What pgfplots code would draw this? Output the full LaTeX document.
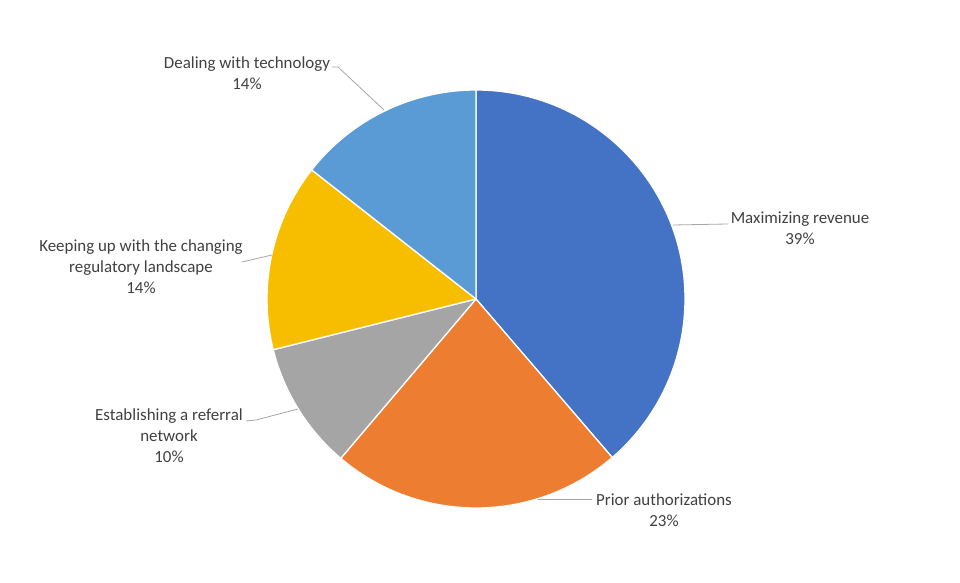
\documentclass[border=0pt]{standalone}
\usepackage{pgfplots}
\pgfplotsset{compat=1.18}
\usepackage{pgfplotstable}
\usepackage{fontspec}
\setmainfont{Carlito}
\definecolor{cA}{HTML}{4472C4}
\definecolor{cB}{HTML}{ED7D31}
\definecolor{cC}{HTML}{A5A5A5}
\definecolor{cD}{HTML}{F7BE00}
\definecolor{cE}{HTML}{5B9BD5}
\definecolor{txt}{HTML}{404040}
\definecolor{lead}{HTML}{A6A6A6}
\pgfplotstableread{
idx pct
0 38.7
1 22.5
2 9.9
3 14.5
4 14.4
}\piedata
\begin{document}
\begin{tikzpicture}
\begin{axis}[
  x=1bp, y=1bp, xmin=0, xmax=960, ymin=0, ymax=583,
  hide axis, clip=false, scale only axis,
]
\path (axis cs:0,0) rectangle (axis cs:960,583);
\pgfplotsextra{
  \gdef\curang{90}
  \foreach \i/\col in {0/cA,1/cB,2/cC,3/cD,4/cE}{
    \pgfplotstablegetelem{\i}{pct}\of\piedata
    \pgfmathsetmacro\endang{\curang-3.6*\pgfplotsretval}
    \filldraw[fill=\col, draw=white, line width=1.3bp, line join=round]
      (axis cs:476,284) -- ++(\curang:209bp)
      arc[start angle=\curang, end angle=\endang, radius=209bp] -- cycle;
    \xdef\curang{\endang}
  }
}
% leader lines
\addplot[lead, line width=0.8bp, no marks] coordinates {(332,516) (338,516) (384,473)};
\addplot[lead, line width=0.8bp, no marks] coordinates {(673,358) (728,359)};
\addplot[lead, line width=0.8bp, no marks] coordinates {(242,321) (272,328)};
\addplot[lead, line width=0.8bp, no marks] coordinates {(246,162) (256,163) (298,174)};
\addplot[lead, line width=0.8bp, no marks] coordinates {(538,84) (592,84)};
% labels
\begin{scope}[every node/.style={text=txt, align=center, font=\fontsize{17}{21}\selectfont}]
\node at (axis cs:247,510) {Dealing with technology\\14\%};
\node at (axis cs:800,355) {Maximizing revenue\\39\%};
\node at (axis cs:141,316) {Keeping up with the changing\\regulatory landscape\\14\%};
\node at (axis cs:169,147) {Establishing a referral\\network\\10\%};
\node at (axis cs:664,73) {Prior authorizations\\23\%};
\end{scope}
\end{axis}
\end{tikzpicture}
\end{document}
